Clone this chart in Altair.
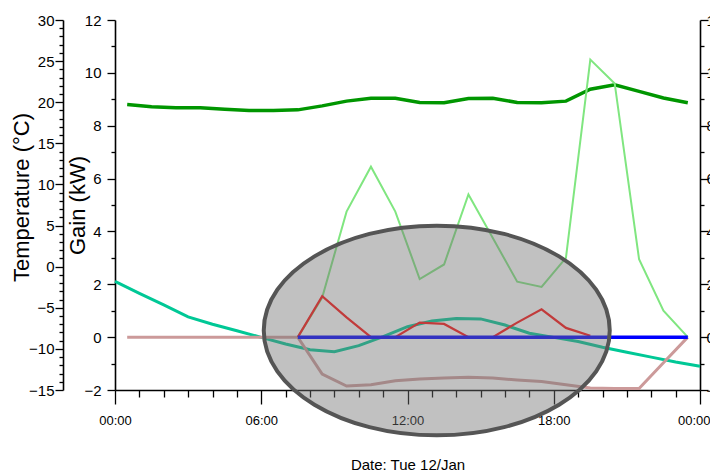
import altair as alt
import pandas as pd

DAY = "2021-01-12"
NEXT = "2021-01-13"

# ---------------- data ----------------
temp_times = ["00:00", "01:00", "02:00", "03:00", "04:00", "05:00", "06:00", "07:00",
              "08:00", "09:00", "10:00", "11:00", "12:00", "13:00", "14:00", "15:00",
              "16:00", "17:00", "18:00", "19:00", "20:00", "21:00", "22:00", "23:00", "24:00"]
temperature = [-1.8, -3.25, -4.65, -6.1, -7.0, -7.8, -8.6, -9.4, -10.1, -10.35, -9.6, -8.5,
               -7.3, -6.6, -6.3, -6.35, -7.1, -8.1, -8.6, -9.1, -9.8, -10.4, -11.0, -11.6, -12.1]

day_times = ["00:30", "01:30", "02:30", "03:30", "04:30", "05:30", "06:30", "07:30",
             "08:30", "09:30", "10:30", "11:30", "12:30", "13:30", "14:30", "15:30",
             "16:30", "17:30", "18:30", "19:30", "20:30", "21:30", "22:30", "23:30"]
dark_green = [8.80, 8.72, 8.68, 8.68, 8.62, 8.58, 8.58, 8.60, 8.75, 8.93, 9.04, 9.04,
              8.88, 8.87, 9.03, 9.04, 8.88, 8.87, 8.93, 9.38, 9.55, 9.30, 9.05, 8.87]
pink = [0, 0, 0, 0, 0, 0, 0, 0, -1.4, -1.85, -1.8, -1.65,
        -1.58, -1.55, -1.52, -1.55, -1.62, -1.68, -1.8, -1.92, -1.94, -1.94, -0.97, 0]

work_times = ["07:30", "08:30", "09:30", "10:30", "11:30", "12:30", "13:30", "14:30",
              "15:30", "16:30", "17:30", "18:30", "19:30", "20:30", "21:30", "22:30", "23:30"]
light_green = [0, 1.5, 4.75, 6.45, 4.75, 2.2, 2.75, 5.4, 3.75, 2.1, 1.9, 3.0,
               10.5, 9.6, 2.95, 1.0, 0]
blue = [0] * 17

red_times = ["07:30", "08:30", "09:30", "10:30", "11:30", "12:30", "13:30", "14:30",
             "15:30", "16:30", "17:30", "18:30", "19:30"]
red = [0, 1.55, 0.75, 0, 0, 0.55, 0.5, 0, 0, 0.55, 1.05, 0.35, 0.05]

ellipse_time = ["13:12"]
ellipse_gain = [0.25]


def ts(t):
    if t == "24:00":
        return f"{NEXT}T00:00:00"
    return f"{DAY}T{t}:00"


def frame(times, values, col):
    return pd.DataFrame({"time": [ts(t) for t in times], col: values})


df_temp = frame(temp_times, temperature, "temp")
df_dg = frame(day_times, dark_green, "gain")
df_pink = frame(day_times, pink, "gain")
df_lg = frame(work_times, light_green, "gain")
df_blue = frame(work_times, blue, "gain")
df_red = frame(red_times, red, "gain")
df_ell = frame(ellipse_time, ellipse_gain, "gain")

# ---------------- styling ----------------
FONT = "Liberation Sans, Arial"
Y_LABEL_SIZE = 15
X_LABEL_SIZE = 13
TITLE_SIZE = 22

hour_ticks = [alt.DateTime(year=2021, month=1, date=12, hours=h) for h in range(24)] + \
             [alt.DateTime(year=2021, month=1, date=13, hours=0)]

LAST = "date(datum.value) == 13"
x_axis = alt.Axis(
    values=hour_ticks,
    format="%H:%M",
    labelExpr="hours(datum.value) % 6 == 0 ? timeFormat(datum.value, '%H:%M') : ''",
    tickSize={"condition": {"test": "hours(datum.value) % 6 == 0", "value": 14}, "value": 7},
    labelAlign={"condition": {"test": LAST, "value": "right"}, "value": "center"},
    labelOffset={"condition": {"test": LAST, "value": 10}, "value": 0},
    labelPadding=10,
    labelFontSize=X_LABEL_SIZE,
    labelOverlap=False,
    labelFlush=False,
    title="Date: Tue 12/Jan",
    titleFontSize=15,
    titlePadding=30,
    grid=False,
)
x_enc = alt.X(
    "time:T",
    scale=alt.Scale(domain=[alt.DateTime(year=2021, month=1, date=12, hours=0),
                            alt.DateTime(year=2021, month=1, date=13, hours=0)]),
    axis=x_axis,
)

temp_axis = alt.Axis(
    orient="left",
    offset=52,
    values=list(range(-15, 31)),
    labelExpr="datum.value % 5 == 0 ? datum.label : ''",
    tickSize={"condition": {"test": "datum.value % 5 == 0", "value": 8}, "value": 4},
    labelPadding=1,
    labelFontSize=Y_LABEL_SIZE,
    labelOverlap=False,
    labelFlush=False,
    title="Temperature (°C)",
    titleX=-30,
    titleY=177,
    grid=False,
)

gain_values = list(range(-2, 13))
gain_axis = alt.Axis(
    orient="left",
    values=gain_values,
    labelExpr="datum.value % 2 == 0 ? datum.label : ''",
    tickSize={"condition": {"test": "datum.value % 2 == 0", "value": 8}, "value": 4},
    labelPadding=6,
    labelFontSize=Y_LABEL_SIZE,
    labelOverlap=False,
    labelFlush=False,
    title="Gain (kW)",
    titleX=-26,
    titleY=185,
    grid=False,
)
right_axis = alt.Axis(
    orient="right",
    values=gain_values,
    labelExpr="datum.value % 2 == 0 ? datum.label : ''",
    tickSize={"condition": {"test": "datum.value % 2 == 0", "value": 8}, "value": 4},
    labelPadding=-2,
    labelFontSize=Y_LABEL_SIZE,
    labelOverlap=False,
    labelFlush=False,
    title=None,
    grid=False,
)

temp_scale = alt.Scale(domain=[-15, 30], nice=False, zero=False)
gain_scale = alt.Scale(domain=[-2, 12], nice=False, zero=False)

temp_layer = alt.Chart(df_temp).mark_line(color="#00c896", strokeWidth=3).encode(
    x=x_enc, y=alt.Y("temp:Q", scale=temp_scale, axis=temp_axis)
)


def gain_line(df, color, width):
    return alt.Chart(df).mark_line(color=color, strokeWidth=width).encode(
        x=x_enc, y=alt.Y("gain:Q", scale=gain_scale, axis=gain_axis)
    )


gain_layer = alt.layer(
    gain_line(df_dg, "#009600", 3.5),
    gain_line(df_pink, "#cc9a9a", 3),
    gain_line(df_lg, "#80e680", 2),
    gain_line(df_red, "#ff1010", 2.2),
    gain_line(df_blue, "#0000ff", 3.5),
)

RY = 0.606
K = 0.5523
ELLIPSE = (f"M -1 0 C -1 {-K*RY:.4f} {-K:.4f} {-RY} 0 {-RY} "
           f"C {K:.4f} {-RY} 1 {-K*RY:.4f} 1 0 "
           f"C 1 {K*RY:.4f} {K:.4f} {RY} 0 {RY} "
           f"C {-K:.4f} {RY} -1 {K*RY:.4f} -1 0 Z")

ellipse_layer = alt.Chart(df_ell).mark_point(
    shape=ELLIPSE, size=346 * 346, filled=True, fill="#727272", fillOpacity=0.44,
    stroke="#555555", strokeWidth=4, strokeOpacity=1, opacity=1,
).encode(
    x=x_enc, y=alt.Y("gain:Q", scale=gain_scale, axis=right_axis)
)

chart = alt.layer(temp_layer, gain_layer, ellipse_layer).resolve_scale(
    y="independent"
).properties(
    width=585, height=370,
    autosize=alt.AutoSizeParams(type="none"),
    padding={"left": 107, "top": 12, "right": 10, "bottom": 84},
).configure_view(stroke=None).configure_axis(
    labelFont=FONT, labelColor="#000000",
    titleFont=FONT, titleFontSize=TITLE_SIZE, titleFontWeight="normal", titleColor="#000000",
    domainColor="#000000", domainWidth=1.6, tickColor="#000000", tickWidth=1.3,
)

chart.save("out.html", embed_options={"renderer": "svg", "actions": False})
